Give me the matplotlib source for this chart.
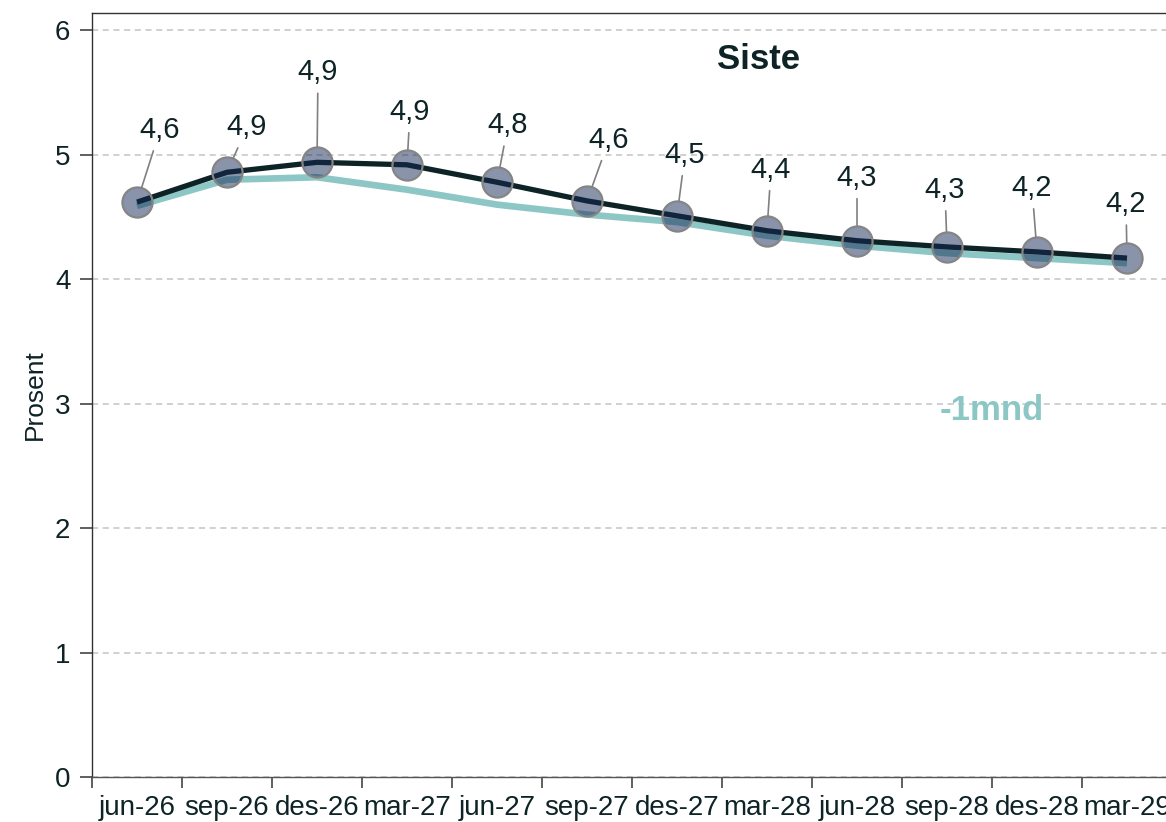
import numpy as np
import matplotlib
matplotlib.use("Agg")
import matplotlib.pyplot as plt

# ---------------- Data ----------------
quarters = ["jun-26", "sep-26", "des-26", "mar-27", "jun-27", "sep-27",
            "des-27", "mar-28", "jun-28", "sep-28", "des-28", "mar-29"]
siste = [4.62, 4.86, 4.94, 4.92, 4.78, 4.63, 4.51, 4.39, 4.31, 4.26, 4.22, 4.17]
forrige = [4.59, 4.80, 4.82, 4.72, 4.60, 4.52, 4.46, 4.35, 4.27, 4.21, 4.17, 4.13]
value_labels = ["4,6", "4,9", "4,9", "4,9", "4,8", "4,6",
                "4,5", "4,4", "4,3", "4,3", "4,2", "4,2"]
# --------------------------------------

# label offsets (pixels) from each point
label_offsets = [(23, 72), (20, 45), (1, 90), (3, 53), (11, 57), (22, 61),
                 (8, 61), (4, 61), (0, 63), (-2, 57), (-5, 64), (-1, 54)]

dark = "#0d2326"
teal = "#8cc7c6"

plt.rcParams["font.family"] = ["Liberation Sans", "DejaVu Sans"]

fig = plt.figure(figsize=(11.66, 8.22), dpi=100)
ax = fig.add_axes([92 / 1166, 45 / 822, 1080 / 1166, 764 / 822])

x = np.arange(len(quarters))
ax.plot(x, forrige, color=teal, lw=4.8, zorder=3, solid_capstyle="butt")
ax.plot(x, siste, color=dark, lw=3.8, zorder=4, solid_capstyle="butt")
ax.scatter(x, siste, s=470, facecolor=(0x15 / 255, 0x29 / 255, 0x55 / 255, 0.5),
           edgecolor="#858585", linewidth=1.6, zorder=5)

for xi, yi, lab, (dx, dy) in zip(x, siste, value_labels, label_offsets):
    ax.annotate(lab, xy=(xi, yi), xytext=(dx, dy), textcoords="offset pixels",
                ha="center", va="center", fontsize=21, color=dark,
                arrowprops=dict(arrowstyle="-", color="#808080", lw=1.2,
                                shrinkA=3, shrinkB=11),
                zorder=6)

ax.text(0.617, 0.9385, "Siste", transform=ax.transAxes, ha="center", va="center",
        fontsize=25, fontweight="bold", color=dark)
ax.text(0.833, 0.48, "-1mnd", transform=ax.transAxes, ha="center", va="center",
        fontsize=25, fontweight="bold", color=teal)

ax.set_xlim(-0.5, len(quarters) - 0.5)
ax.set_ylim(0, 6.14)
ax.set_yticks(range(0, 7))
ax.yaxis.grid(True, linestyle=(0, (4, 3)), color="#c4c4c4", lw=1.1)
ax.set_axisbelow(True)

ax.set_xticks(np.arange(-0.5, len(quarters) - 0.5, 1.0))
ax.set_xticklabels([])
ax.set_xticks(x, minor=True)
ax.set_xticklabels(quarters, minor=True)
ax.tick_params(axis="x", which="major", length=8, width=1.2, color="#444444")
ax.tick_params(axis="x", which="minor", length=0, pad=13, labelsize=20,
               labelcolor=dark)
ax.tick_params(axis="y", length=8.5, width=1.2, color="#444444", pad=7,
               labelsize=20, labelcolor=dark)

ax.set_ylabel("Prosent", fontsize=19, color=dark, labelpad=6)

for side in ["left", "top", "bottom"]:
    ax.spines[side].set_color("#333333")
    ax.spines[side].set_linewidth(1.0)
ax.spines["bottom"].set_color("#555555")
ax.spines["right"].set_visible(False)

fig.savefig("out.png", dpi=100)
